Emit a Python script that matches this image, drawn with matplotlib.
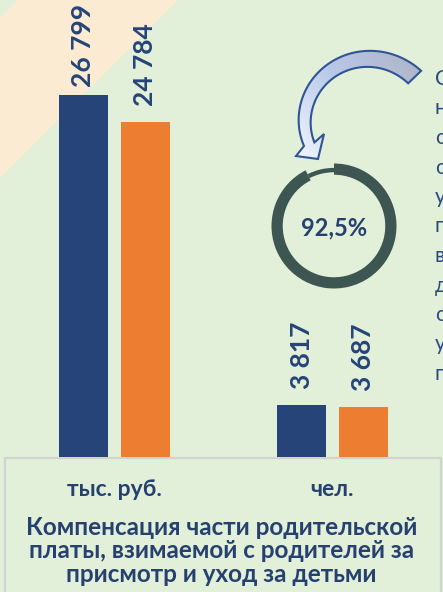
import matplotlib.pyplot as plt
import numpy as np
from matplotlib.patches import Polygon, Rectangle
from matplotlib.colors import LinearSegmentedColormap

plt.rcParams['font.family'] = ['Lato', 'DejaVu Sans']

# Data
groups = ['тыс. руб.', 'чел.']
prev_year = [26799, 3817]
curr_year = [24784, 3687]
share_pct = 92.5
title = 'Компенсация части родительской\nплаты, взимаемой с родителей за\nприсмотр и уход за детьми'
side_letters = ['С', 'н', 'о', 'о', 'у', 'п', 'в', 'д', 'о', 'у', 'п']

BG = '#e2efd9'
BAND = '#fcebd3'
BLUE = '#264478'
ORANGE = '#ed7d31'
TXT = '#26416f'
RING = '#3d5652'

W, H = 443, 592
fig = plt.figure(figsize=(W / 100, H / 100), dpi=100, facecolor=BG)


def pixel_axes(z):
    a = fig.add_axes([0, 0, 1, 1])
    a.set_xlim(0, W)
    a.set_ylim(H, 0)
    a.axis('off')
    a.set_zorder(z)
    a.patch.set_alpha(0)
    return a


# background band and caption panel
bg = pixel_axes(0)
bg.add_patch(Polygon([(18, 0), (178, 0), (0, 178), (0, 18)], closed=True,
                     facecolor=BAND, edgecolor='none'))
bg.add_patch(Rectangle((5, 458), 436, 160, facecolor=BG, edgecolor='#d2d5cf', lw=1.6))

# bars
base_px = 457
ax = fig.add_axes([0, (H - base_px) / H, 1, base_px / H])
ax.set_zorder(1)
ax.patch.set_alpha(0)
x = np.arange(len(groups))
off, bw = 0.142, 0.225
ax.bar(x - off, prev_year, bw, color=BLUE)
ax.bar(x + off, curr_year, bw, color=ORANGE)
ax.set_ylim(0, base_px * 26799 / 362)
ax.set_xlim(-0.525, 1.507)
for s in ax.spines.values():
    s.set_visible(False)
ax.set_yticks([])
ax.set_xticks(x)
ax.set_xticklabels(groups, fontsize=16.5, fontweight='bold', color=TXT)
ax.tick_params(axis='x', length=0, pad=16)

pads = [8, 16, 16, 16]
vals = [(x[0] - off, prev_year[0]), (x[0] + off, curr_year[0]),
        (x[1] - off, prev_year[1]), (x[1] + off, curr_year[1])]
for (xx, v), p in zip(vals, pads):
    ax.annotate(f'{v:,}'.replace(',', ' '), xy=(xx, v), xytext=(0, p),
                textcoords='offset pixels', rotation=90, ha='center', va='bottom',
                fontsize=19, fontweight='bold', color=BLUE)

# ring showing the share
rax = fig.add_axes([271.5 / W, 1 - 288.5 / H, 125 / W, 125 / H])
rax.set_zorder(2)
rest = 100 - share_pct
rax.pie([share_pct, rest], startangle=90, counterclock=False, radius=1,
        colors=[RING, 'none'], wedgeprops=dict(width=0.18, linewidth=0))
rax.pie([share_pct, rest], startangle=90, counterclock=False, radius=0.93,
        colors=['none', RING], wedgeprops=dict(width=0.07, linewidth=0))
rax.set_xlim(-1, 1)
rax.set_ylim(-1, 1)
rax.set_aspect('equal')
rax.text(0, -0.03, f'{share_pct:.1f}%'.replace('.', ','), ha='center', va='center',
         fontsize=17, fontweight='bold', color=TXT)

# curved arrow pointing at the ring
top = pixel_axes(3)
th = np.radians(np.linspace(44, 199, 90))
fr = (th - th[0]) / (th[-1] - th[0])
r = 69 - 10 * fr
hw = 9 - 3.5 * fr
cx, cy = 365, 125
outer = np.c_[cx + (r + hw) * np.cos(th), cy - (r + hw) * np.sin(th)]
inner = np.c_[cx + (r - hw) * np.cos(th), cy - (r - hw) * np.sin(th)]
head = np.array([(296, 156), (318, 159), (324, 134)])
pts = np.vstack([outer, head, inner[::-1]])
top.add_patch(Polygon(pts, closed=True, facecolor='none', edgecolor='#2f5597',
                      lw=1.5, zorder=3))
gx, gy = np.meshgrid(np.linspace(290, 430, 140), np.linspace(40, 165, 125))
d = np.array([-115.0, 100.0])
t = ((gx - 420) * d[0] + (gy - 60) * d[1]) / (d @ d)
cmap = LinearSegmentedColormap.from_list('arr', ['#aeb5c6', '#b9c9ea', '#eef3fc'])
im = top.imshow(np.clip(t, 0, 1), extent=(290, 430, 165, 40), cmap=cmap,
                vmin=0, vmax=1, zorder=2, aspect='auto')
im.set_clip_path(Polygon(pts, closed=True, transform=top.transData))
top.set_xlim(0, W)
top.set_ylim(H, 0)

# first letters of the side paragraph
for i, ch in enumerate(side_letters):
    top.text(435, 79 + i * 29.5, ch, ha='left', va='center', fontsize=15, color='#2b4a80')

fig.text(0.5, 1 - 551 / H, title, ha='center', va='center', fontsize=17.5,
         fontweight='bold', color=TXT, linespacing=1.05)

fig.savefig('out.png', dpi=100, facecolor=BG)
